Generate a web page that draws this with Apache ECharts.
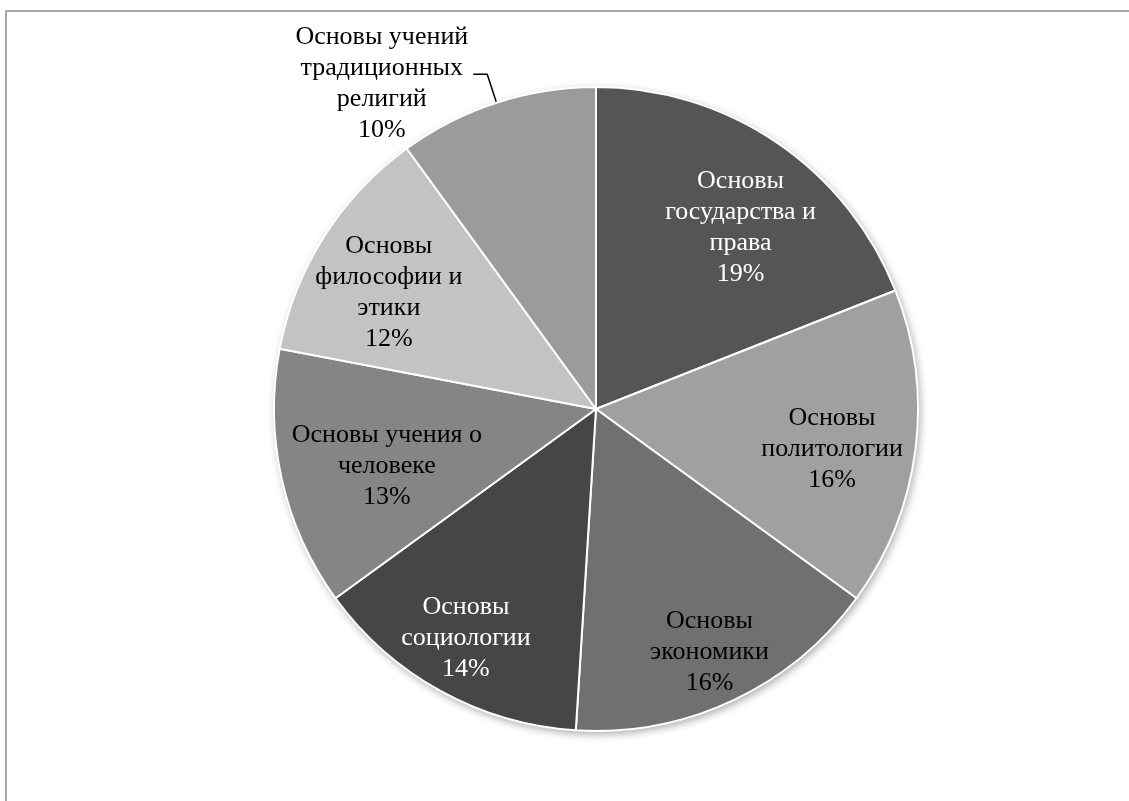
<!DOCTYPE html>
<html><head><meta charset="utf-8">
<script src="https://cdn.jsdelivr.net/npm/echarts@6/dist/echarts.min.js"></script>
<style>html,body{margin:0;padding:0;background:#fff}#c{width:1129px;height:801px}</style>
</head><body><div id="c"></div>
<script>
const categories = ['Основы государства и права','Основы политологии','Основы экономики','Основы социологии','Основы учения о человеке','Основы философии и этики','Основы учений традиционных религий'];
const values = [19,16,16,14,13,12,10];
const labelLines = [['Основы','государства и','права'],['Основы','политологии'],['Основы','экономики'],['Основы','социологии'],['Основы учения о','человеке'],['Основы','философии и','этики'],['Основы учений','традиционных','религий']];
const colors = ['#555555','#a0a0a0','#707070','#464646','#858585','#c3c3c3','#9b9b9b'];
const textColors = ['#ffffff','#000000','#000000','#ffffff','#000000','#000000','#000000'];
const labelNudge = [[8,20],[-5,10],[10,23],[-13,16],[28,4],[-2,14],[0,0]];
const outsideIndex = 6;

const chart = echarts.init(document.getElementById('c'), null, {renderer:'canvas'});
const font = {fontFamily:'Liberation Serif', fontSize:26, lineHeight:31};
function fmt(i){ return labelLines[i].concat([values[i]+'%']).map(s=>'{c|'+s+'}').join('\n'); }

const mainData = categories.map((n,i)=>({
  name:n, value:values[i],
  itemStyle:{color:colors[i]},
  label: i===outsideIndex ? {show:true, position:'outside', formatter:()=>fmt(i), color:'#000', padding:[18,0,0,0], rich:{c:Object.assign({align:'center', color:'#000'}, font)}} : {show:false},
  labelLine: i===outsideIndex ? {show:true, length:30, length2:14, lineStyle:{color:'#000', width:1.5}} : {show:false}
}));
const labelData = categories.map((n,i)=>({
  name:n, value:values[i],
  label: i===outsideIndex ? {show:false} : {show:true, position:'inside', offset:labelNudge[i], formatter:()=>fmt(i), rich:{c:Object.assign({align:'center', color:textColors[i]}, font)}}
}));

chart.setOption({
  animation:false,
  graphic:[{type:'rect', shape:{x:6,y:11,width:1300,height:1000}, style:{fill:'none', stroke:'#8a8a8a', lineWidth:1.5}, z:-10}],
  series:[
    {type:'pie', center:[596,409], radius:322, silent:true, z:1, startAngle:90,
     data:[{value:1, itemStyle:{color:'#fff', shadowBlur:8, shadowColor:'rgba(0,0,0,0.35)', shadowOffsetX:2, shadowOffsetY:3}}],
     label:{show:false}, labelLine:{show:false}},
    {type:'pie', center:[596,409], radius:322, startAngle:90, clockwise:true, z:2, silent:true,
     itemStyle:{borderColor:'#ffffff', borderWidth:2},
     avoidLabelOverlap:false, data:mainData},
    {type:'pie', center:[596,409], radius:[158,322], startAngle:90, clockwise:true, z:3, silent:true,
     itemStyle:{color:'rgba(0,0,0,0)', borderWidth:0},
     labelLine:{show:false}, avoidLabelOverlap:false, data:labelData}
  ]
});
</script></body></html>
